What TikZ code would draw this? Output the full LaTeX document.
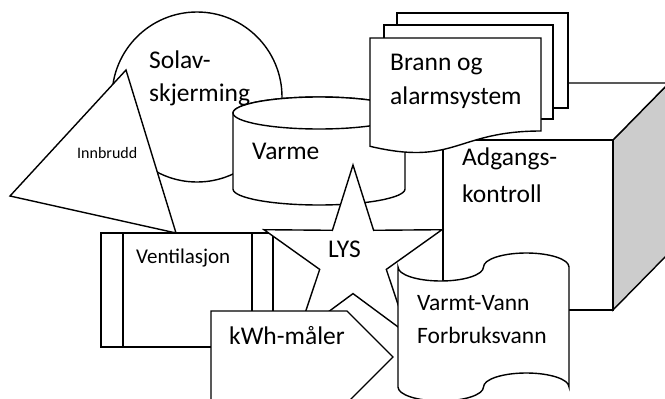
\documentclass[tikz,border=0pt]{standalone}
\usepackage{fontspec}
\setmainfont{Carlito}
\begin{document}
\begin{tikzpicture}[x=1pt,y=-1pt,
  shp/.style={draw=black, fill=white, line width=1.4pt, line join=miter},
  thickshp/.style={shp, line width=2.4pt},
  lbl/.style={anchor=base west, inner sep=0pt, font=\fontsize{25.5}{30}\selectfont},
  smalllbl/.style={lbl, font=\fontsize{16}{19}\selectfont},
  midlbl/.style={lbl, font=\fontsize{21}{25}\selectfont},
  tapelbl/.style={lbl, font=\fontsize{23.5}{28}\selectfont}]
\fill[white] (0,0) rectangle (665,399);
\useasboundingbox (0,0) rectangle (665,399);
% Solavskjerming: circle
\draw[shp] (197,97) circle[radius=85];
% Innbrudd: triangle
\draw[shp] (126,70) -- (10,196) -- (176,233) -- cycle;
% Varme: cylinder
\draw[shp] (233,113) -- (233,189) arc[start angle=180, end angle=0, x radius=86, y radius=16] -- (405,113) arc[start angle=0, end angle=-180, x radius=86, y radius=16] -- cycle;
\draw[shp] (319,113) ellipse[x radius=86, y radius=16];
% Adgangskontroll: cube
\draw[shp, fill=black!20] (613,140) -- (669,83) -- (669,253) -- (613,310) -- cycle;
\draw[shp] (443,140) -- (499,83) -- (669,83) -- (613,140) -- cycle;
\draw[shp] (443,140) rectangle (613,310);
% Brann og alarmsystem: multidocument
\draw[shp] (397,13) rectangle (568,108);
\draw[shp] (384,25) rectangle (553,119);
\draw[shp] (370,38) -- (541,38) -- (541,131) .. controls (455.5,131) and (455.5,166.5) .. (370,146.3) -- cycle;
% Ventilasjon: predefined process
\draw[thickshp] (101,233) rectangle (273,347);
\draw[thickshp] (123,233) -- (123,347) (252,233) -- (252,347);
% LYS: star
\draw[shp] (353,165) -- (373.6,230.3) -- (442,229.7) -- (386.3,269.4) -- (408,334.3) -- (353,293.6) -- (298,334.3) -- (319.7,269.4) -- (264,229.7) -- (332.4,230.3) -- cycle;
% kWh-maaler: pentagon
\draw[shp] (211,311) -- (347,311) -- (393,357) -- (347,403) -- (211,403) -- cycle;
% Varmt-Vann: punched tape
\draw[shp] (398,267) arc[start angle=180, delta angle=-180, x radius=42.75, y radius=14] arc[start angle=180, delta angle=180, x radius=42.75, y radius=14] -- (569,387) arc[start angle=0, delta angle=-180, x radius=42.75, y radius=14] arc[start angle=0, delta angle=180, x radius=42.75, y radius=14] -- cycle;
% labels
\node[lbl] (solav) at (149,68) {Solav-};
\node[lbl] (skj) at (149,101) {skjerming};
\node[smalllbl] (innb) at (77,158) {Innbrudd};
\node[lbl] (varme) at (252,159) {Varme};
\node[lbl] (brann) at (390,70) {Brann og};
\node[lbl] (alarm) at (390,104) {alarmsystem};
\node[lbl] (adg) at (462,165) {Adgangs-};
\node[lbl] (kontr) at (462,202) {kontroll};
\node[midlbl] (vent) at (136,263) {Ventilasjon};
\node[lbl] (lys) at (328,257) {LYS};
\node[lbl] (kwh) at (229,344) {kWh-måler};
\node[tapelbl] (vv) at (417,310) {Varmt-Vann};
\node[tapelbl] (fb) at (417,343) {Forbruksvann};
\end{tikzpicture}
\end{document}
